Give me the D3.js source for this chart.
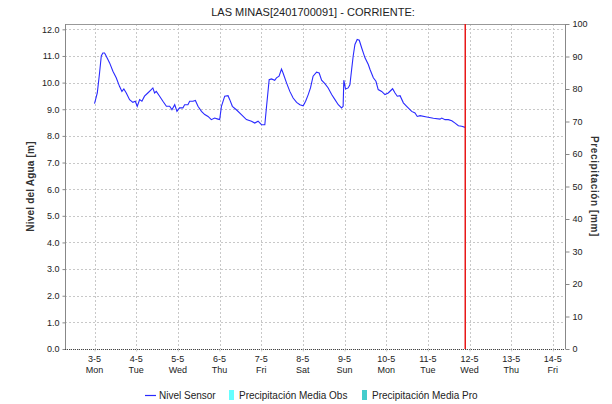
<!DOCTYPE html>
<html><head><meta charset="utf-8">
<script src="https://cdn.jsdelivr.net/npm/d3@7"></script>
<style>body{margin:0;background:#fff}svg{display:block;font-family:"Liberation Sans",Arial,sans-serif}</style>
</head><body><svg id="c" width="612" height="404"></svg>
<script>
const title = "LAS MINAS[2401700091] - CORRIENTE:";
const startDate = new Date(2021, 4, 3, 0, 0);
const domainStart = new Date(2021, 4, 2, 7, 0);
const domainEnd = new Date(2021, 4, 14, 7, 0);
const nowMark = new Date(2021, 4, 11, 21, 30);
const hoursFromStart = [0,1.6,2.9,3.9,4.8,5.8,6.7,8.7,10.6,12.5,14.4,15.8,16.9,18.3,20.2,22.1,23.5,24.6,26.0,27.3,28.8,30.7,32.7,33.6,34.6,35.6,37.5,39.4,41.4,43.3,44.6,46.2,47.5,49.0,50.9,51.9,53.8,54.8,56.7,58.1,59.6,61.6,63.5,65.4,67.3,69.2,71.1,72.1,73.1,75.0,76.9,77.9,79.4,81.7,84.6,87.5,90.4,92.3,94.2,96.2,98.1,99.1,100.6,101.9,103.8,104.8,106.3,107.7,108.6,110.6,112.5,114.4,116.4,118.3,120.2,121.6,123.1,124.4,125.9,127.9,129.4,130.8,132.7,134.6,136.6,138.5,140.4,142.3,143.2,143.6,144.6,146.1,147.1,148.1,149.0,150.0,151.3,152.5,153.9,155.8,157.7,158.7,160.6,162.1,163.4,165.4,167.3,169.2,171.7,173.1,174.4,176.0,177.9,179.8,182.7,184.6,185.9,187.5,191.4,195.2,199.0,200.0,201.9,203.8,205.8,207.7,209.6,211.5,213.5];
const nivelSensor = [9.21,9.61,10.36,11.0,11.11,11.11,11.0,10.74,10.43,10.18,9.86,9.67,9.76,9.61,9.36,9.26,9.3,9.11,9.36,9.3,9.49,9.61,9.74,9.8,9.61,9.67,9.49,9.3,9.11,9.11,8.98,9.17,8.92,9.05,9.05,9.17,9.17,9.3,9.3,9.33,9.11,8.92,8.8,8.73,8.61,8.67,8.63,8.61,9.11,9.49,9.51,9.36,9.11,8.98,8.8,8.61,8.55,8.48,8.55,8.42,8.42,9.11,10.11,10.14,10.09,10.18,10.24,10.51,10.36,9.99,9.67,9.42,9.26,9.17,9.13,9.3,9.55,9.8,10.24,10.39,10.36,10.09,9.96,9.8,9.55,9.36,9.17,9.05,9.11,10.09,9.76,9.8,9.92,10.49,11.0,11.43,11.62,11.59,11.3,10.93,10.68,10.49,10.18,10.05,9.74,9.67,9.55,9.61,9.77,9.61,9.49,9.51,9.24,9.11,8.92,8.86,8.73,8.76,8.71,8.66,8.63,8.67,8.61,8.61,8.57,8.48,8.38,8.36,8.32];
const precipObs = [];
const precipPro = [];
const leftTicks = [0,1,2,3,4,5,6,7,8,9,10,11,12];
const rightTicks = [0,10,20,30,40,50,60,70,80,90,100];
const dayNames = ["Sun","Mon","Tue","Wed","Thu","Fri","Sat"];
const legendItems = [{label:"Nivel Sensor",type:"line",color:"#2a2aff"},{label:"Precipitación Media Obs",type:"box",color:"#66ffff"},{label:"Precipitación Media Pro",type:"box",color:"#44cccc"}];

const W=612,H=404, m={l:65,r:47,t:24,b:55};
const svg=d3.select("#c");
const x=d3.scaleTime().domain([domainStart,domainEnd]).range([m.l,W-m.r]);
const y=d3.scaleLinear().domain([0,12.2]).range([H-m.b,m.t]);
const y2=d3.scaleLinear().domain([0,100]).range([H-m.b,m.t]);
const days=d3.timeDay.range(new Date(2021,4,3),new Date(2021,4,14,1));
const data=hoursFromStart.map((h,i)=>({t:d3.timeMinute.offset(startDate,Math.round(h*60)),v:nivelSensor[i]}));

svg.append("text").attr("x",313).attr("y",16).attr("text-anchor","middle").attr("font-size",11).attr("fill","#222").text(title);

// grid
const g=svg.append("g");
g.selectAll(".hg").data(leftTicks).join("line").attr("x1",m.l).attr("x2",W-m.r).attr("y1",d=>Math.round(y(d))+0.5).attr("y2",d=>Math.round(y(d))+0.5).attr("stroke","#c8c8c8").attr("stroke-dasharray","2,2");
g.selectAll(".vg").data(days).join("line").attr("x1",d=>Math.round(x(d))+0.5).attr("x2",d=>Math.round(x(d))+0.5).attr("y1",m.t).attr("y2",H-m.b).attr("stroke","#c8c8c8").attr("stroke-dasharray","2,2");

// frame
svg.append("line").attr("x1",m.l).attr("x2",W-m.r).attr("y1",m.t+0.5).attr("y2",m.t+0.5).attr("stroke","#999");
// left axis
const la=svg.append("g").attr("transform",`translate(${m.l+0.5},0)`).call(d3.axisLeft(y).tickValues(leftTicks).tickFormat(d3.format(".1f")).tickSize(3).tickSizeOuter(0));
la.select(".domain").attr("stroke","#888").attr("d",`M0,${m.t}V${H-m.b}`);
la.selectAll(".tick line").attr("stroke","#888");
la.selectAll("text").attr("font-size",9).attr("fill","#222").attr("font-family","Liberation Sans, Arial, sans-serif");
// right axis
const ra=svg.append("g").attr("transform",`translate(${W-m.r+0.5},0)`).call(d3.axisRight(y2).tickValues(rightTicks).tickSize(4).tickSizeOuter(0));
ra.select(".domain").attr("stroke","#888").attr("d",`M0,${m.t}V${H-m.b}`);
ra.selectAll(".tick line").attr("stroke","#888");
ra.selectAll("text").attr("font-size",9).attr("fill","#222").attr("font-family","Liberation Sans, Arial, sans-serif");
// bottom axis
const ba=svg.append("g").attr("transform",`translate(0,${H-m.b+0.5})`).call(d3.axisBottom(x).tickValues(days).tickSize(2).tickFormat(""));
ba.select(".domain").attr("stroke","#444").attr("stroke-dasharray","1,1").attr("d",`M${m.l},0H${W-m.r}`);
ba.selectAll(".tick line").attr("stroke","#ccc");
const bl=svg.append("g");
bl.selectAll("text.d").data(days).join("text").attr("x",d=>x(d)).attr("y",H-m.b+13).attr("text-anchor","middle").attr("font-size",9).attr("fill","#222").text(d=>d.getDate()+"-"+(d.getMonth()+1));
bl.selectAll("text.w").data(days).join("text").attr("x",d=>x(d)).attr("y",H-m.b+24).attr("text-anchor","middle").attr("font-size",9).attr("fill","#222").text(d=>dayNames[d.getDay()]);

// axis titles
svg.append("text").attr("transform",`translate(34,${(m.t+H-m.b)/2}) rotate(-90)`).attr("text-anchor","middle").attr("font-size",10).attr("font-weight","bold").attr("letter-spacing",0.2).attr("fill","#333").text("Nivel del Agua [m]");
svg.append("text").attr("transform",`translate(591,${(m.t+H-m.b)/2}) rotate(90)`).attr("text-anchor","middle").attr("font-size",10).attr("font-weight","bold").attr("letter-spacing",0.6).attr("fill","#333").text("Precipitación [mm]");

// precipitation bars (no data)
svg.append("g").selectAll("rect").data(precipObs).join("rect");
svg.append("g").selectAll("rect").data(precipPro).join("rect");

// line
svg.append("path").datum(data).attr("fill","none").attr("stroke","#2a2aff").attr("stroke-width",1.1).attr("d",d3.line().x(d=>x(d.t)).y(d=>y(d.v)));

// now marker
svg.append("line").attr("x1",Math.round(x(nowMark))+0.25).attr("x2",Math.round(x(nowMark))+0.25).attr("y1",m.t).attr("y2",H-m.b).attr("stroke","#e81818").attr("stroke-width",1.5);

// legend
const lg=svg.append("g").attr("font-size",10).attr("fill","#222");
const lx=[145,229,362];
legendItems.forEach((it,i)=>{
  if(it.type==="line") lg.append("line").attr("x1",lx[i]).attr("x2",lx[i]+11).attr("y1",395.5).attr("y2",395.5).attr("stroke",it.color).attr("stroke-width",1.2);
  else lg.append("rect").attr("x",lx[i]).attr("y",390).attr("width",5).attr("height",10).attr("fill",it.color);
  lg.append("text").attr("x",lx[i]+(it.type==="line"?14:10)).attr("y",399).text(it.label);
});
</script></body></html>
